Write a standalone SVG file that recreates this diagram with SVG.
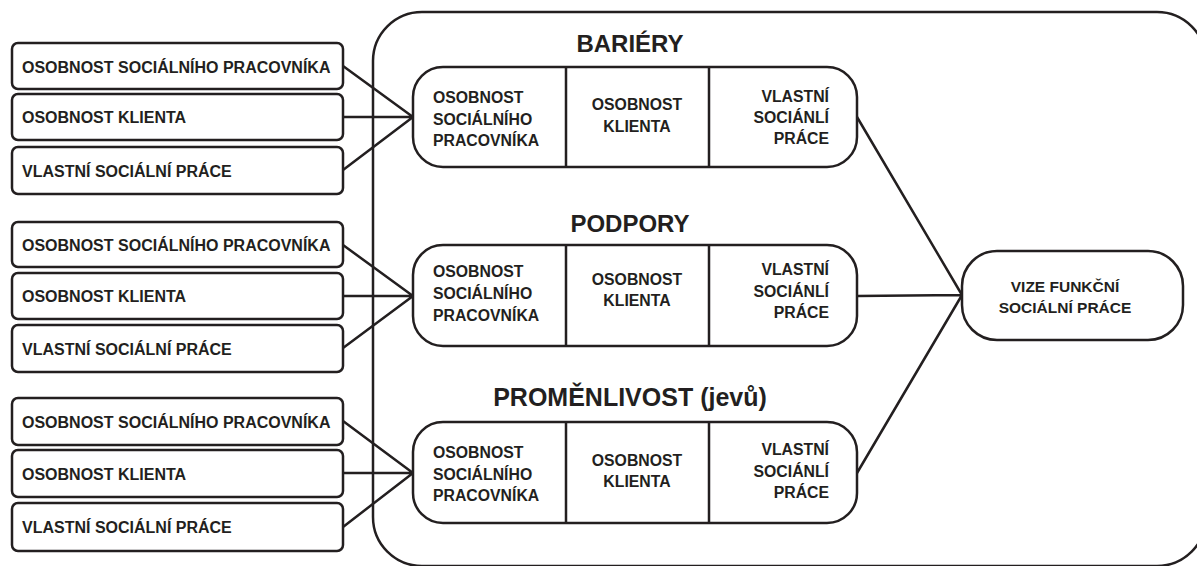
<svg xmlns="http://www.w3.org/2000/svg" width="1197" height="566" viewBox="0 0 1197 566">
<style>
.box{fill:#fff;stroke:#231f20;stroke-width:2.5}
.ln{fill:none;stroke:#231f20;stroke-width:2.5}
text{font-family:"Liberation Sans",Arial,sans-serif;font-weight:bold;fill:#231f20}
.lt{font-size:16px}
.it{font-size:15.8px}
.vt{font-size:15.5px;text-anchor:middle}
.tt{font-size:24px;text-anchor:middle}
.t3{font-size:25px;text-anchor:middle}
.c2{text-anchor:middle}
.c3{text-anchor:end}
</style>
<rect width="1197" height="566" fill="#fff"/>
<rect id="container" class="box" x="373" y="12" width="833" height="554" rx="49"/>
<g id="connectors">
<path class="ln" d="M343,66 L413,117 M343,117 L413,117 M343,170 L413,117"/>
<path class="ln" d="M343,245 L413,296 M343,296 L413,296 M343,348 L413,296"/>
<path class="ln" d="M343,421 L413,473 M343,473 L413,473 M343,527 L413,473"/>
<path class="ln" d="M857,117 L962,295 M857,296 L962,295 M857,473 L962,295"/>
</g>
<g id="g1-left">
<g id="n1a"><rect class="box" x="12" y="43" width="331" height="46" rx="6"/><text class="lt" x="22" y="73">OSOBNOST SOCIÁLNÍHO PRACOVNÍKA</text></g>
<g id="n1b"><rect class="box" x="12" y="94" width="331" height="46" rx="6"/><text class="lt" x="22" y="123">OSOBNOST KLIENTA</text></g>
<g id="n1c"><rect class="box" x="12" y="147" width="331" height="47" rx="6"/><text class="lt" x="22" y="177">VLASTNÍ SOCIÁLNÍ PRÁCE</text></g>
</g>
<g id="g2-left">
<g id="n2a"><rect class="box" x="12" y="222" width="331" height="45" rx="6"/><text class="lt" x="22" y="251">OSOBNOST SOCIÁLNÍHO PRACOVNÍKA</text></g>
<g id="n2b"><rect class="box" x="12" y="273" width="331" height="46" rx="6"/><text class="lt" x="22" y="302">OSOBNOST KLIENTA</text></g>
<g id="n2c"><rect class="box" x="12" y="325" width="331" height="47" rx="6"/><text class="lt" x="22" y="355">VLASTNÍ SOCIÁLNÍ PRÁCE</text></g>
</g>
<g id="g3-left">
<g id="n3a"><rect class="box" x="12" y="398" width="331" height="47" rx="6"/><text class="lt" x="22" y="428">OSOBNOST SOCIÁLNÍHO PRACOVNÍKA</text></g>
<g id="n3b"><rect class="box" x="12" y="450" width="331" height="47" rx="6"/><text class="lt" x="22" y="480">OSOBNOST KLIENTA</text></g>
<g id="n3c"><rect class="box" x="12" y="503" width="331" height="48" rx="6"/><text class="lt" x="22" y="533">VLASTNÍ SOCIÁLNÍ PRÁCE</text></g>
</g>
<g id="bariery">
<text class="tt" x="630" y="52">BARIÉRY</text>
<rect class="box" x="413" y="67" width="444" height="100" rx="30"/>
<path class="ln" d="M566,67 V167 M709,67 V167"/>
<text class="it"><tspan x="433" y="103">OSOBNOST</tspan><tspan x="433" y="125">SOCIÁLNÍHO</tspan><tspan x="433" y="146">PRACOVNÍKA</tspan></text>
<text class="it c2"><tspan x="637" y="110">OSOBNOST</tspan><tspan x="637" y="132">KLIENTA</tspan></text>
<text class="it c3"><tspan x="829" y="102">VLASTNÍ</tspan><tspan x="829" y="123">SOCIÁNLÍ</tspan><tspan x="829" y="144">PRÁCE</tspan></text>
</g>
<g id="podpory">
<text class="tt" x="630" y="232">PODPORY</text>
<rect class="box" x="413" y="245" width="444" height="101" rx="30"/>
<path class="ln" d="M566,245 V346 M709,245 V346"/>
<text class="it"><tspan x="433" y="277">OSOBNOST</tspan><tspan x="433" y="299">SOCIÁLNÍHO</tspan><tspan x="433" y="321">PRACOVNÍKA</tspan></text>
<text class="it c2"><tspan x="637" y="285">OSOBNOST</tspan><tspan x="637" y="306">KLIENTA</tspan></text>
<text class="it c3"><tspan x="829" y="275">VLASTNÍ</tspan><tspan x="829" y="297">SOCIÁNLÍ</tspan><tspan x="829" y="318">PRÁCE</tspan></text>
</g>
<g id="promenlivost">
<text class="t3" x="630" y="406">PROMĚNLIVOST (jevů)</text>
<rect class="box" x="413" y="422" width="444" height="101" rx="30"/>
<path class="ln" d="M566,422 V523 M709,422 V523"/>
<text class="it"><tspan x="433" y="458">OSOBNOST</tspan><tspan x="433" y="480">SOCIÁLNÍHO</tspan><tspan x="433" y="501">PRACOVNÍKA</tspan></text>
<text class="it c2"><tspan x="637" y="466">OSOBNOST</tspan><tspan x="637" y="487">KLIENTA</tspan></text>
<text class="it c3"><tspan x="829" y="455">VLASTNÍ</tspan><tspan x="829" y="477">SOCIÁNLÍ</tspan><tspan x="829" y="498">PRÁCE</tspan></text>
</g>
<g id="vize">
<rect class="box" x="962" y="251" width="221" height="89" rx="35"/>
<text class="vt"><tspan x="1065" y="292">VIZE FUNKČNÍ</tspan><tspan x="1065" y="313">SOCIÁLNÍ PRÁCE</tspan></text>
</g>
</svg>
